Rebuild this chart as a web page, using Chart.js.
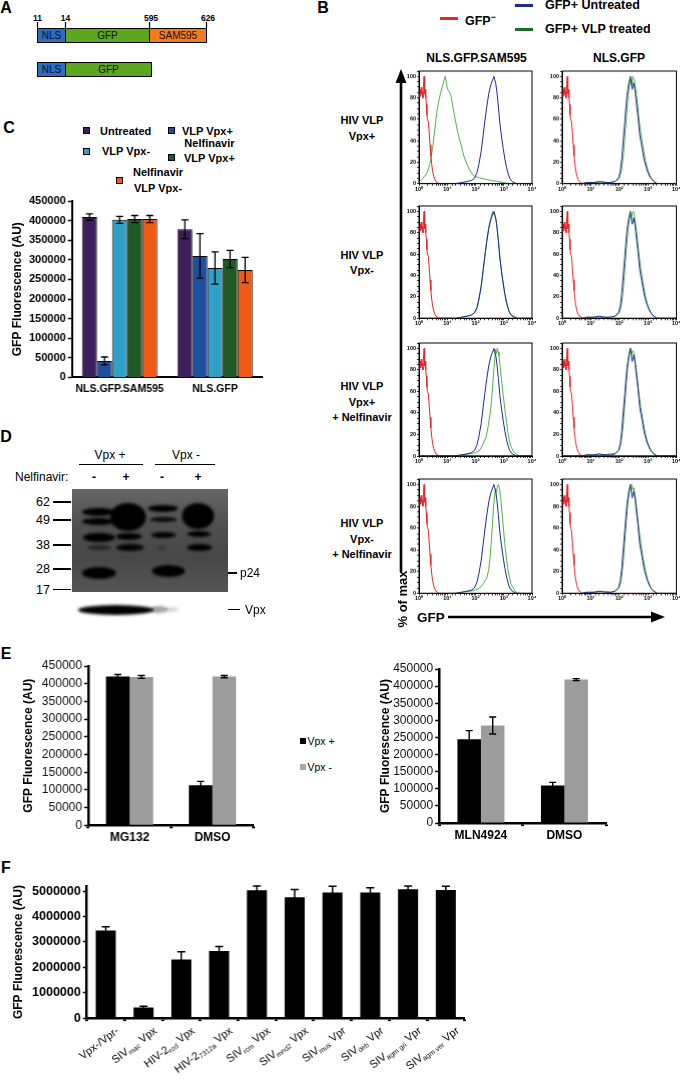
<!DOCTYPE html>
<html><head><meta charset="utf-8">
<script src="https://cdn.jsdelivr.net/npm/chart.js@4.4.1/dist/chart.umd.min.js"></script>
<style>
body{margin:0;background:#fff}
#page{position:relative;width:680px;height:1082px;overflow:hidden;background:#fff;font-family:'Liberation Sans',Arial,Helvetica,sans-serif;color:#000}
.abs{position:absolute;white-space:nowrap}
.cv{position:absolute}
.band{position:absolute;background:#000;border-radius:50%;filter:blur(1.6px)}
.seg{position:absolute;box-sizing:border-box;border:1px solid #000;font-size:10px;line-height:12px;text-align:center;color:#111}
</style></head><body><div id="page"></div>
<script>
// ---------------- DATA ----------------
// Panel C
const cCategories = ['NLS.GFP.SAM595', 'NLS.GFP'];
const cSeriesNames = ['Untreated', 'VLP Vpx+', 'VLP Vpx-', 'Nelfinavir VLP Vpx+', 'Nelfinavir VLP Vpx-'];
const cUntreated = [409000, 378000];
const cUntreatedErr = [8000, 24000];
const cVlpVpxPlus = [42000, 310000];
const cVlpVpxPlusErr = [10000, 57000];
const cVlpVpxMinus = [402000, 279000];
const cVlpVpxMinusErr = [9000, 41000];
const cNelfVpxPlus = [404000, 302000];
const cNelfVpxPlusErr = [9000, 22000];
const cNelfVpxMinus = [404000, 274000];
const cNelfVpxMinusErr = [9000, 32000];

// Panel E
const eSeriesNames = ['Vpx +', 'Vpx -'];
const eLeftCategories = ['MG132', 'DMSO'];
const eLeftVpxPlus = [420000, 113000];
const eLeftVpxPlusErr = [6000, 11000];
const eLeftVpxMinus = [419000, 420000];
const eLeftVpxMinusErr = [4000, 3000];
const eRightCategories = ['MLN4924', 'DMSO'];
const eRightVpxPlus = [245000, 110000];
const eRightVpxPlusErr = [25000, 9000];
const eRightVpxMinus = [285000, 419000];
const eRightVpxMinusErr = [25000, 3000];

// Panel F
const fCategories = ['Vpx-/Vpr-', 'SIV_{mac} Vpx', 'HIV-2_{rod} Vpx', 'HIV-2_{7312a} Vpx', 'SIV_{rcm} Vpx',
  'SIV_{mnd2} Vpx', 'SIV_{mus} Vpr', 'SIV_{deb} Vpr', 'SIV_{agm gri} Vpr', 'SIV_{agm ver} Vpr'];
const fValues = [3450000, 420000, 2310000, 2640000, 5030000, 4760000, 4940000, 4940000, 5070000, 5040000];
const fErrors = [150000, 50000, 300000, 180000, 170000, 300000, 250000, 190000, 130000, 150000];
const fTicks = [0, 1000000, 2000000, 3000000, 4000000, 5000000];

// Panel B: flow histograms, [log10(GFP), % of max]
const gfpNegative = [[0,84],[0.02,80],[0.04,88],[0.06,82],[0.08,90],[0.1,84],[0.12,86],[0.14,80],[0.16,92],[0.18,100],[0.2,84],[0.22,88],[0.24,80],[0.26,74],[0.28,64],[0.3,60],[0.33,58],[0.36,48],[0.39,36],[0.42,26],[0.45,18],[0.48,12],[0.52,7],[0.56,4],[0.6,2],[0.66,1],[0.72,0],[4,0]];
const sam595Untreated = [[0,0],[1.3,0],[1.5,1],[1.7,2],[1.85,3],[1.96,5],[2.05,10],[2.12,18],[2.2,30],[2.27,45],[2.33,58],[2.4,72],[2.47,84],[2.54,92],[2.58,95],[2.62,98],[2.65,100],[2.68,97],[2.72,93],[2.76,85],[2.81,72],[2.86,57],[2.92,44],[2.98,33],[3.04,23],[3.1,15],[3.16,9],[3.21,5],[3.3,2],[3.45,0],[4,0]];
const sam595VpxPlus = [[0,2],[0.1,4],[0.2,7],[0.3,11],[0.38,18],[0.44,26],[0.48,33],[0.54,46],[0.6,60],[0.65,70],[0.69,76],[0.76,84],[0.83,91],[0.88,96],[0.93,100],[0.97,94],[1.01,88],[1.07,86],[1.13,82],[1.19,73],[1.25,64],[1.31,56],[1.37,48],[1.43,42],[1.49,36],[1.55,30],[1.61,24],[1.7,18],[1.79,13],[1.88,9],[1.96,7],[2.14,5.5],[2.38,4],[2.56,3],[2.74,2.4],[2.98,1],[3.21,0],[4,0]];
const sam595VpxMinus = [[0,0],[1.3,0],[1.5,1],[1.7,2],[1.85,3],[1.96,5],[2.05,9],[2.12,17],[2.2,29],[2.27,44],[2.33,58],[2.4,73],[2.47,85],[2.52,91],[2.56,96],[2.6,100],[2.63,97],[2.67,99],[2.71,94],[2.75,88],[2.8,76],[2.85,62],[2.9,48],[2.96,36],[3.02,25],[3.08,16],[3.14,10],[3.2,6],[3.28,3],[3.4,1],[3.5,0],[4,0]];
const sam595VpxPlusNelf = [[0,0],[1.2,0],[1.5,1],[1.8,2],[2.0,3],[2.14,5],[2.25,10],[2.38,18],[2.45,28],[2.51,38],[2.56,49],[2.6,63],[2.65,80],[2.68,90],[2.71,99],[2.74,95],[2.77,100],[2.8,97],[2.83,93],[2.87,84],[2.92,71],[2.98,57],[3.04,43],[3.1,31],[3.15,21],[3.21,13],[3.27,8],[3.35,4],[3.45,1.5],[3.55,0],[4,0]];
const sam595VpxMinusNelf = [[0,0],[1.2,0],[1.5,1],[1.8,2],[2.0,3],[2.15,5],[2.28,9],[2.4,14],[2.47,22],[2.52,34],[2.56,48],[2.6,64],[2.64,80],[2.68,91],[2.71,96],[2.74,93],[2.78,99],[2.82,100],[2.85,96],[2.89,88],[2.94,74],[3.0,56],[3.06,40],[3.12,27],[3.18,17],[3.25,9],[3.33,5],[3.4,2],[3.48,0.5],[3.6,0],[4,0]];
const nlsGfpUntreated = [[0,0],[0.7,0],[0.85,1],[1.1,1],[1.3,2],[1.5,1],[1.7,1],[1.85,2],[1.98,5.5],[2.04,12],[2.09,24],[2.14,40],[2.19,57],[2.23,70],[2.27,82],[2.33,93],[2.39,100],[2.42,94],[2.45,88],[2.48,91],[2.5,94],[2.53,90],[2.56,85],[2.6,75],[2.65,64],[2.72,45],[2.8,33],[2.88,21],[2.98,12],[3.09,5.5],[3.21,2],[3.33,0],[4,0]];
const nlsGfpVpxPlus = [[0,0],[0.7,0],[0.85,1],[1.2,1],[1.4,2],[1.6,1],[1.85,2],[2.0,5],[2.08,12],[2.14,25],[2.2,45],[2.26,65],[2.31,82],[2.36,93],[2.4,97],[2.43,92],[2.47,100],[2.51,98],[2.55,93],[2.6,84],[2.65,72],[2.7,58],[2.74,50],[2.8,40],[2.86,30],[2.92,22],[2.98,15],[3.06,8],[3.15,4],[3.25,1],[3.35,0],[4,0]];
const nlsGfpVpxMinus = [[0,0],[0.7,0],[0.85,1],[1.2,1],[1.45,1],[1.7,1],[1.85,2],[2.0,5],[2.07,11],[2.13,24],[2.19,44],[2.25,64],[2.3,80],[2.35,92],[2.39,97],[2.42,93],[2.46,99],[2.5,100],[2.54,94],[2.59,85],[2.64,73],[2.69,60],[2.74,49],[2.8,39],[2.86,29],[2.92,21],[2.98,14],[3.06,8],[3.15,3],[3.25,1],[3.35,0],[4,0]];
const nlsGfpVpxPlusNelf = [[0,0],[0.7,0],[0.85,1],[1.2,1],[1.4,1],[1.7,2],[1.85,2],[2.0,6],[2.07,13],[2.13,26],[2.19,47],[2.25,67],[2.3,83],[2.35,94],[2.39,100],[2.43,94],[2.47,98],[2.51,96],[2.55,90],[2.6,80],[2.65,68],[2.7,56],[2.75,46],[2.81,36],[2.87,27],[2.93,19],[2.99,13],[3.07,7],[3.16,3],[3.26,1],[3.36,0],[4,0]];
const nlsGfpVpxMinusNelf = [[0,0],[0.7,0],[0.85,1],[1.2,1],[1.5,2],[1.7,1],[1.85,2],[2.0,5],[2.07,12],[2.13,25],[2.19,46],[2.25,66],[2.3,82],[2.35,93],[2.39,99],[2.43,100],[2.47,95],[2.51,97],[2.55,91],[2.6,81],[2.65,69],[2.7,57],[2.75,47],[2.81,37],[2.87,28],[2.93,20],[2.99,13],[3.07,7],[3.16,3],[3.26,1],[3.36,0],[4,0]];
const histRowLabels = ['HIV VLP<br>Vpx+', 'HIV VLP<br>Vpx-', 'HIV VLP<br>Vpx+<br>+ Nelfinavir', 'HIV VLP<br>Vpx-<br>+ Nelfinavir'];
const histColTitles = ['NLS.GFP.SAM595', 'NLS.GFP'];

// ---------------- HELPERS ----------------
const FONT = "'Liberation Sans', Arial, Helvetica, sans-serif";
Chart.defaults.font.family = FONT;
Chart.defaults.color = '#000';
const page = document.getElementById('page');

function txt(s, x, y, o = {}) {
  const d = document.createElement('div');
  d.className = 'abs';
  d.innerHTML = s;
  const size = o.size || 12;
  d.style.fontSize = size + 'px';
  d.style.lineHeight = (o.lh || size) + 'px';
  d.style.fontWeight = o.bold ? 'bold' : 'normal';
  d.style.left = x + 'px'; d.style.top = y + 'px';
  if (o.center) d.style.textAlign = 'center';
  const ax = o.align === 'left' ? '0' : o.align === 'right' ? '-100%' : '-50%';
  d.style.transform = `translate(${ax},-50%)` + (o.rot ? ` rotate(${o.rot}deg)` : '');
  page.appendChild(d);
  return d;
}
function box(x, y, w, h, css) {
  const d = document.createElement('div');
  d.className = 'abs';
  Object.assign(d.style, {left: x + 'px', top: y + 'px', width: w + 'px', height: h + 'px'}, css || {});
  page.appendChild(d);
  return d;
}

const errorBars = {
  id: 'errorBars',
  afterDatasetsDraw(chart, args, opts) {
    const ctx = chart.ctx, ys = chart.scales.y;
    chart.data.datasets.forEach((ds, di) => {
      if (!ds.err) return;
      const meta = chart.getDatasetMeta(di);
      meta.data.forEach((bar, i) => {
        const v = ds.data[i], e = ds.err[i];
        const yT = ys.getPixelForValue(v + e), yB = ys.getPixelForValue(Math.max(0, v - e));
        const cw = opts.cap || 3.5;
        ctx.save();
        ctx.strokeStyle = '#000'; ctx.lineWidth = opts.width || 1.3;
        ctx.beginPath();
        ctx.moveTo(bar.x, yT); ctx.lineTo(bar.x, yB);
        ctx.moveTo(bar.x - cw, yT); ctx.lineTo(bar.x + cw, yT);
        if (opts.lowerCap !== false) { ctx.moveTo(bar.x - cw, yB); ctx.lineTo(bar.x + cw, yB); }
        ctx.stroke(); ctx.restore();
      });
    });
  }
};
const frameBox = {
  id: 'frameBox',
  afterDraw(chart) {
    const a = chart.chartArea, ctx = chart.ctx;
    ctx.save(); ctx.strokeStyle = '#000'; ctx.lineWidth = 1;
    ctx.strokeRect(a.left, a.top, a.right - a.left, a.bottom - a.top);
    ctx.restore();
  }
};
const richLabels = {
  id: 'richLabels',
  afterDraw(chart, args, opts) {
    const xs = chart.scales.x, ctx = chart.ctx;
    chart.data.labels.forEach((lab, i) => {
      const x0 = xs.getPixelForValue(i) + opts.dx, y0 = xs.top + opts.dy;
      const parts = lab.split(/(_\{[^}]*\})/).filter(Boolean)
        .map(p => p.startsWith('_{') ? {t: p.slice(2, -1), sub: true} : {t: p, sub: false});
      ctx.save();
      ctx.translate(x0, y0); ctx.rotate(-opts.angle * Math.PI / 180);
      ctx.fillStyle = '#000'; ctx.textBaseline = 'alphabetic'; ctx.textAlign = 'left';
      const widths = parts.map(p => { ctx.font = (p.sub ? opts.subSize : opts.size) + 'px ' + FONT; return ctx.measureText(p.t).width; });
      let x = -widths.reduce((a, b) => a + b, 0);
      parts.forEach((p, k) => {
        ctx.font = (p.sub ? opts.subSize : opts.size) + 'px ' + FONT;
        ctx.fillText(p.t, x, p.sub ? opts.subShift : 0);
        x += widths[k];
      });
      ctx.restore();
    });
  }
};

function place(area, wy, hx, padT, padR, cfg) {
  const left = area.l - wy, top = area.t - padT;
  const w = area.r + padR - left, h = area.b + hx - top;
  const div = document.createElement('div');
  div.className = 'cv';
  Object.assign(div.style, {left: left + 'px', top: top + 'px', width: w + 'px', height: h + 'px'});
  const cv = document.createElement('canvas');
  div.appendChild(cv); page.appendChild(div);
  const o = cfg.options;
  o.responsive = true; o.maintainAspectRatio = false; o.animation = false; o.devicePixelRatio = 1;
  o.layout = {padding: {left: 0, top: padT, right: padR, bottom: 0}};
  o.plugins = Object.assign({legend: {display: false}, tooltip: {enabled: false}}, o.plugins || {});
  o.scales.x.afterFit = s => { s.height = hx; };
  o.scales.y.afterFit = s => { s.width = wy; };
  return new Chart(cv, cfg);
}
const plain = v => String(v);

// ---------------- PANEL LETTERS ----------------
[['A', 6, 8], ['B', 323, 8], ['C', 9, 128], ['D', 6, 437], ['E', 6, 654], ['F', 6, 868]]
  .forEach(([s, x, y]) => txt(s, x, y, {size: 16, bold: true}));

// ---------------- PANEL A (schematic) ----------------
const aNLS = '#2c6cc2', aGFP = '#5ba51f', aSAM = '#f47a1e';
function seg(x1, x2, y, h, col, label) {
  const d = box(x1, y, x2 - x1, h, {background: col});
  d.className = 'seg'; d.style.lineHeight = (h - 2) + 'px'; d.textContent = label;
}
seg(37, 66, 28, 15, aNLS, 'NLS'); seg(65, 150, 28, 15, aGFP, 'GFP'); seg(149, 207, 28, 15, aSAM, 'SAM595');
seg(37, 66, 62, 15, aNLS, 'NLS'); seg(65, 152, 62, 15, aGFP, 'GFP');
[['11', 37.5], ['14', 65.5], ['595', 151], ['626', 208]].forEach(([s, x]) => txt(s, x, 18, {size: 8.5, bold: true}));

// ---------------- PANEL B (histograms) ----------------
const RED = '#e3262b', BLUE = '#1c2b8c', GREEN = '#4fb24a';
box(440, 16.5, 18, 3, {background: '#e3262b'});
txt('GFP<sup style="font-size:9px">−</sup>', 465, 19, {size: 12.5, bold: true, align: 'left'});
box(515, 4, 18, 3, {background: '#1c2b8c'});
txt('GFP+ Untreated', 545, 5, {size: 12.5, bold: true, align: 'left'});
box(515, 27.5, 18, 3, {background: '#1d6b2a'});
txt('GFP+ VLP treated', 545, 29, {size: 12.5, bold: true, align: 'left'});
txt(histColTitles[0], 476.5, 58, {size: 12, bold: true});
txt(histColTitles[1], 619, 58, {size: 12, bold: true});

const histCols = [{l: 419, r: 532}, {l: 562.3, r: 675.7}];
const histRows = [{t: 71, b: 182.7}, {t: 206, b: 318.3}, {t: 342.7, b: 455.7}, {t: 479.3, b: 592.7}];
const histGreens = [[sam595VpxPlus, nlsGfpVpxPlus], [sam595VpxMinus, nlsGfpVpxMinus],
  [sam595VpxPlusNelf, nlsGfpVpxPlusNelf], [sam595VpxMinusNelf, nlsGfpVpxMinusNelf]];
const histBlues = [sam595Untreated, nlsGfpUntreated];
const rowLabelY = [128, 262.5, 402, 539];
const SUP = ['⁰', '¹', '²', '³', '⁴'];
const toXY = pts => pts.map(([e, p]) => ({x: Math.pow(10, e), y: p}));

histRows.forEach((row, ri) => {
  txt(histRowLabels[ri], 362, rowLabelY[ri], {size: 11, bold: true, lh: 15.5, center: true});
  histCols.forEach((col, ci) => {
    const area = {l: col.l, r: col.r, t: row.t, b: row.b};
    place(area, 14, 10, 6, 6, {
      type: 'line',
      data: {datasets: [
        {data: toXY(gfpNegative), borderColor: RED, borderWidth: 1, pointRadius: 0},
        {data: toXY(histBlues[ci]), borderColor: BLUE, borderWidth: 1, pointRadius: 0},
        {data: toXY(histGreens[ri][ci]), borderColor: GREEN, borderWidth: 1, pointRadius: 0}
      ]},
      options: {
        scales: {
          x: {type: 'logarithmic', min: 1, max: 10000,
            ticks: {autoSkip: false, maxRotation: 0, minRotation: 0, padding: 0, font: {size: 5.5, weight: 'bold'},
              callback: v => { const e = Math.round(Math.log10(v)); return Math.abs(Math.log10(v) - e) < 1e-9 ? '10' + SUP[e] : ''; }},
            grid: {drawOnChartArea: false, tickLength: 2, tickColor: '#000', tickWidth: 0.8},
            border: {color: '#000', width: 1}},
          y: {min: 0, max: 105,
            ticks: {stepSize: 5, autoSkip: false, includeBounds: false, padding: 1, font: {size: 5.5, weight: 'bold'},
              callback: v => (v % 20 === 0 ? String(v) : '')},
            grid: {drawOnChartArea: false, tickLength: 2, tickColor: '#000', tickWidth: 0.8},
            border: {color: '#000', width: 1}}
        }
      },
      plugins: [frameBox]
    });
  });
});
txt('% of max', 402, 599, {size: 13, bold: true, rot: -90});
txt('GFP', 417, 618, {size: 13.5, bold: true, align: 'left'});

// ---------------- PANEL C ----------------
const cColors = ['#3d1f5e', '#1f50a0', '#31a0c8', '#1f5a24', '#f05a14'];
[[83, 127, 0], [168, 127, 1], [83, 147.5, 2], [168, 154, 3], [116, 177, 4]].forEach(([x, y, k]) =>
  box(x, y, 7, 7, {background: cColors[k], border: '1px solid #000', boxSizing: 'border-box'}));
txt('Untreated', 100, 130.5, {size: 11, bold: true, align: 'left'});
txt('VLP Vpx+', 182, 130.5, {size: 11, bold: true, align: 'left'});
txt('VLP Vpx-', 102, 151, {size: 11, bold: true, align: 'left'});
txt('Nelfinavir<br>VLP Vpx+', 184, 150.5, {size: 11, bold: true, align: 'left', lh: 15, center: true});
txt('Nelfinavir<br>VLP Vpx-', 133, 180, {size: 11, bold: true, align: 'left', lh: 15.5, center: true});

const cVals = [cUntreated, cVlpVpxPlus, cVlpVpxMinus, cNelfVpxPlus, cNelfVpxMinus];
const cErrs = [cUntreatedErr, cVlpVpxPlusErr, cVlpVpxMinusErr, cNelfVpxPlusErr, cNelfVpxMinusErr];
place({l: 72, r: 262, t: 200.9, b: 377.3}, 61.7, 24, 10, 4, {
  type: 'bar',
  data: {labels: cCategories, datasets: cSeriesNames.map((n, k) => ({label: n, data: cVals[k], err: cErrs[k],
    backgroundColor: cColors[k], borderColor: '#000', borderWidth: 1, borderSkipped: 'bottom'}))},
  options: {
    datasets: {bar: {barPercentage: 1, categoryPercentage: 0.79}},
    plugins: {errorBars: {cap: 3.5, width: 1.3}},
    scales: {
      x: {grid: {display: false}, ticks: {padding: -3, font: {size: 10.5, weight: 'bold'}}, border: {color: '#000', width: 2}},
      y: {min: 0, max: 450000,
        ticks: {stepSize: 50000, autoSkip: false, padding: 2, font: {size: 11, weight: 'bold'}, callback: plain},
        grid: {drawOnChartArea: false, tickLength: 4, tickColor: '#000', tickWidth: 1.5},
        border: {color: '#000', width: 2},
        title: {display: true, text: 'GFP Fluorescence (AU)', font: {size: 12, weight: 'bold'}, padding: 0}}
    }
  },
  plugins: [errorBars]
});

// ---------------- PANEL D (western blot) ----------------
txt('Vpx +', 110, 455, {size: 12});
txt('Vpx -', 186, 455, {size: 12});
box(79, 463.5, 64, 1.3, {background: '#000'});
box(155, 463.5, 60, 1.3, {background: '#000'});
txt('Nelfinavir:', 15, 477, {size: 12, align: 'left'});
[['-', 94], ['+', 126], ['-', 162], ['+', 198]].forEach(([s, x]) => txt(s, x, 477, {size: 12, bold: true}));
[['62', 502], ['49', 520], ['38', 545], ['28', 569], ['17', 589.5]].forEach(([s, y]) => {
  txt(s, 50, y, {size: 12.5, align: 'right'});
  box(53, y - 0.8, 18, 1.6, {background: '#000'});
});
const blot = box(71.7, 489.3, 156, 102.4, {background: 'linear-gradient(#666, #505050 35%, #474747 65%, #555)', overflow: 'hidden'});
[[10, 19, 33, 8, 1], [10, 28.5, 33, 7, 1], [11, 44, 32, 9, 1], [15, 56, 24, 5, 0.5], [10, 78, 34, 12, 1],
 [38, 14, 36, 28, 1], [44, 44, 26, 7, 1], [44, 55, 28, 7, 0.95],
 [76, 16, 30, 7, 1], [78, 28, 27, 5, 0.9], [79, 43, 25, 6, 1], [85, 57, 10, 3, 0.35], [80, 76, 33, 12, 1],
 [110, 14, 32, 26, 1], [115, 42, 24, 6, 1], [115, 55, 25, 7, 1]].forEach(([x, y, w, h, op]) => {
  const b = document.createElement('div'); b.className = 'band';
  Object.assign(b.style, {left: x + 'px', top: y + 'px', width: w + 'px', height: h + 'px', opacity: op});
  blot.appendChild(b);
});
[[78, 605, 76, 10, 1], [150, 606, 18, 7, 0.35], [165, 607, 14, 5, 0.15]].forEach(([x, y, w, h, op]) => {
  const b = document.createElement('div'); b.className = 'band';
  Object.assign(b.style, {left: x + 'px', top: y + 'px', width: w + 'px', height: h + 'px', opacity: op});
  page.appendChild(b);
});
box(228, 572.3, 9, 1.4, {background: '#000'});
txt('p24', 240, 573, {size: 12, align: 'left'});
box(228, 609, 12, 1.4, {background: '#000'});
txt('Vpx', 245, 610, {size: 12, align: 'left'});

// ---------------- PANEL E ----------------
box(300, 738, 6, 6, {background: '#000'});
txt('Vpx +', 307.5, 741, {size: 10.5, align: 'left'});
box(300, 764, 6, 6, {background: '#a8a8a8'});
txt('Vpx -', 307.5, 767, {size: 10.5, align: 'left'});

function eChart(area, wy, cats, plus, plusErr, minus, minusErr, catPct) {
  place(area, wy, 22, 10, 6, {
    type: 'bar',
    data: {labels: cats, datasets: [
      {label: eSeriesNames[0], data: plus, err: plusErr, backgroundColor: '#000', borderWidth: 0},
      {label: eSeriesNames[1], data: minus, err: minusErr, backgroundColor: '#9c9c9c', borderWidth: 0}]},
    options: {
      datasets: {bar: {barPercentage: 1, categoryPercentage: catPct}},
      plugins: {errorBars: {cap: 3.5, width: 1.4}},
      scales: {
        x: {grid: {drawOnChartArea: false, tickLength: 3, tickColor: '#000', tickWidth: 3},
          ticks: {padding: 2, font: {size: 12, weight: 'bold'}}, border: {color: '#000', width: 2.5}},
        y: {min: 0, max: 450000,
          ticks: {stepSize: 50000, autoSkip: false, padding: 2, font: {size: 12}, color: '#111', callback: plain},
          grid: {drawOnChartArea: false, tickLength: 4, tickColor: '#000', tickWidth: 1.5},
          border: {color: '#000', width: 2.5},
          title: {display: true, text: 'GFP Fluorescence (AU)', font: {size: 12, weight: 'bold'}, padding: 0}}
      }
    },
    plugins: [errorBars]
  });
}
eChart({l: 88, r: 253, t: 665.7, b: 825}, 66.9, eLeftCategories, eLeftVpxPlus, eLeftVpxPlusErr, eLeftVpxMinus, eLeftVpxMinusErr, 0.57);
eChart({l: 439, r: 606, t: 668.6, b: 822.7}, 61.2, eRightCategories, eRightVpxPlus, eRightVpxPlusErr, eRightVpxMinus, eRightVpxMinusErr, 0.563);

// ---------------- PANEL F ----------------
place({l: 87, r: 464, t: 885.6, b: 1017.7}, 75.7, 64, 10, 10, {
  type: 'bar',
  data: {labels: fCategories, datasets: [{label: 'GFP', data: fValues, err: fErrors, backgroundColor: '#000', borderWidth: 0}]},
  options: {
    datasets: {bar: {barPercentage: 0.53, categoryPercentage: 1}},
    plugins: {errorBars: {cap: 4, width: 1.5, lowerCap: false},
      richLabels: {dx: 14, dy: 14, angle: 37, size: 11, subSize: 7, subShift: 2}},
    scales: {
      x: {grid: {drawOnChartArea: false, tickLength: 3, tickColor: '#000', tickWidth: 3},
        ticks: {display: false}, border: {color: '#000', width: 2.5}},
      y: {min: 0, max: 5200000,
        afterBuildTicks: s => { s.ticks = fTicks.map(v => ({value: v})); },
        ticks: {padding: 2, autoSkip: false, font: {size: 12.5, weight: 'bold'}, callback: plain},
        grid: {drawOnChartArea: false, tickLength: 4, tickColor: '#000', tickWidth: 1.5},
        border: {color: '#000', width: 2.5},
        title: {display: true, text: 'GFP Fluorescence (AU)', font: {size: 12, weight: 'bold'}, padding: 0}}
    }
  },
  plugins: [errorBars, richLabels]
});

// ---------------- ARROWS / LINES (SVG) ----------------
const svg = `<svg xmlns="http://www.w3.org/2000/svg" width="680" height="1082" style="position:absolute;left:0;top:0;pointer-events:none">
<g stroke="#000" fill="none">
<line x1="401" y1="572" x2="401" y2="80" stroke-width="2.6"/>
<line x1="448" y1="617" x2="655" y2="617" stroke-width="2.6"/>
<line x1="37.5" y1="22" x2="37.5" y2="28" stroke-width="1.2"/>
<line x1="65.5" y1="22" x2="65.5" y2="28" stroke-width="1.2"/>
<line x1="149.5" y1="22" x2="149.5" y2="28" stroke-width="1.2"/>
<line x1="206.5" y1="22" x2="206.5" y2="28" stroke-width="1.2"/>
</g>
<polygon points="401,69 395.5,83 406.5,83" fill="#000"/>
<polygon points="665,617 651,611.5 651,622.5" fill="#000"/>
</svg>`;
page.insertAdjacentHTML('beforeend', svg);
</script></body></html>
